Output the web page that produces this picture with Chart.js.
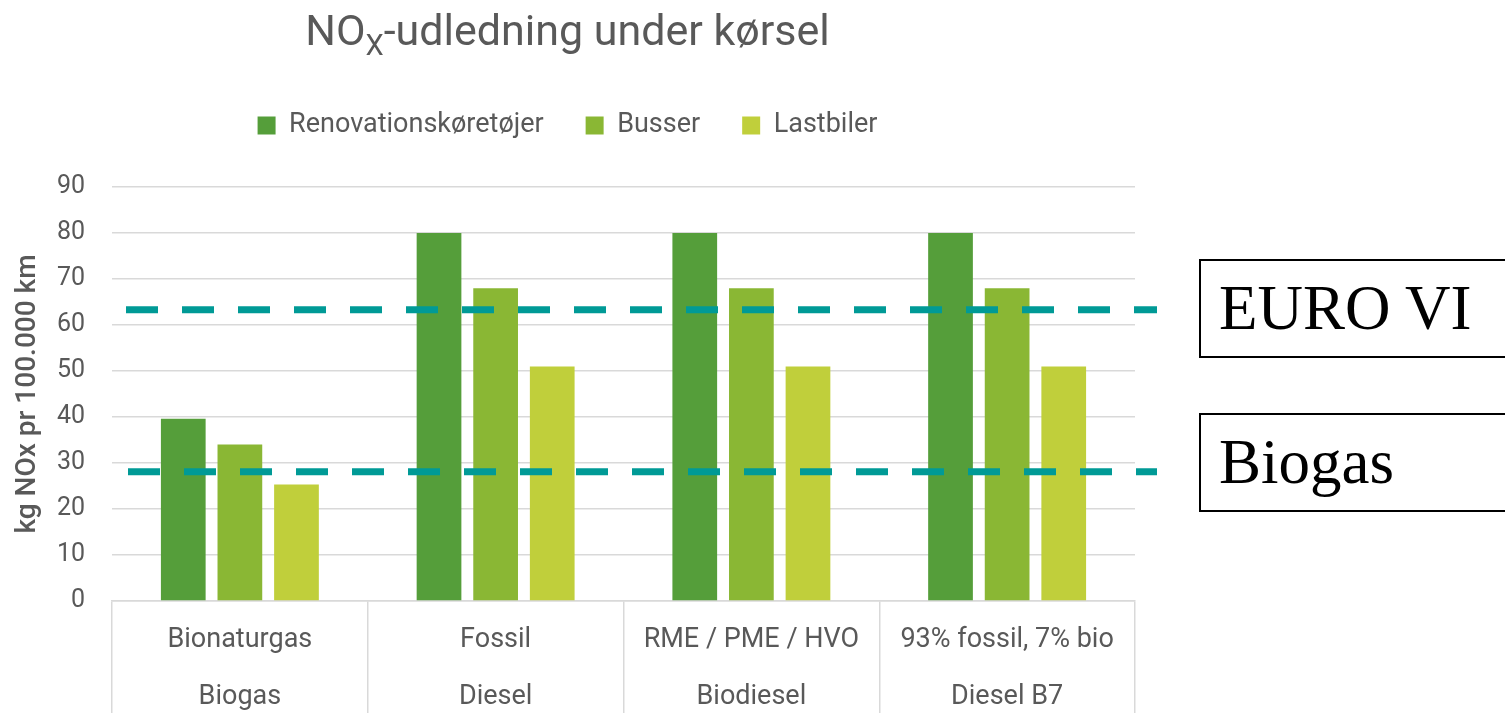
<!DOCTYPE html>
<html>
<head>
<meta charset="utf-8">
<script src="https://cdn.jsdelivr.net/npm/chart.js@4.4.0/dist/chart.umd.min.js"></script>
<style>
  body { margin: 0; background: #fff; overflow: hidden; }
  #wrap { position: relative; width: 1505px; height: 713px; }
  #title {
    position: absolute; left: 0; top: 10px; width: 1135px;
    text-align: center; font: 43px Roboto; line-height: 40px; color: #595959;
  }
  #title sub { font-size: 29px; line-height: 0; vertical-align: -10px; }
  .ref {
    position: absolute; left: 1199px; width: 330px; height: 95px;
    border: 2px solid #000; border-right: none; padding-left: 18px;
    font: 63px "Liberation Serif"; line-height: 95px; color: #000;
  }
</style>
</head>
<body>
<div id="wrap">
  <canvas id="chart"></canvas>
  <div id="title">NO<sub>X</sub>-udledning under kørsel</div>
  <div class="ref" style="top:259px">EURO VI</div>
  <div class="ref" style="top:413px">Biogas</div>
</div>
<script>
// kategorier (to linjer pr. kategori)
const categories = [
  ['Bionaturgas', 'Biogas'],
  ['Fossil', 'Diesel'],
  ['RME / PME / HVO', 'Biodiesel'],
  ['93% fossil, 7% bio', 'Diesel B7']
];
const seriesNames = ['Renovationskøretøjer', 'Busser', 'Lastbiler'];
const renovation = [39.6, 80, 80, 80];
const busser = [34, 68, 68, 68];
const lastbiler = [25.3, 51, 51, 51];
// referencelinjer: EURO VI og Biogas
const refValues = [63.3, 28.1];
const yTicks = [0, 10, 20, 30, 40, 50, 60, 70, 80, 90];

const textColor = '#595959';
const gridColor = '#d9d9d9';

// stiplede referencelinjer tegnes over søjlerne
const refLinePlugin = {
  id: 'refLines',
  afterDatasetsDraw(chart) {
    const { ctx, chartArea, scales: { y } } = chart;
    ctx.save();
    ctx.strokeStyle = '#009a96';
    ctx.lineWidth = 7;
    ctx.setLineDash([32, 24]);
    refValues.forEach((v, i) => {
      const py = y.getPixelForValue(v);
      ctx.beginPath();
      ctx.moveTo(chartArea.left + 14 + i * 2, py);
      ctx.lineTo(chartArea.right + 22, py);
      ctx.stroke();
    });
    ctx.restore();
  }
};

const canvas = document.getElementById('chart');
canvas.width = 1505;
canvas.height = 713;

new Chart(canvas, {
  type: 'bar',
  data: {
    labels: categories,
    datasets: [
      { label: seriesNames[0], data: renovation, backgroundColor: '#559e3a' },
      { label: seriesNames[1], data: busser, backgroundColor: '#8ab734' },
      { label: seriesNames[2], data: lastbiler, backgroundColor: '#c0cf3b' }
    ]
  },
  options: {
    responsive: false,
    animation: false,
    layout: { padding: { top: 70, right: 370, left: 0, bottom: 0 } },
    datasets: { bar: { categoryPercentage: 0.664, barPercentage: 0.79 } },
    plugins: {
      title: { display: false },
      subtitle: {
        display: true, text: '', weight: 500,
        font: { size: 10, lineHeight: 1 },
        padding: { top: 0, bottom: 28 }
      },
      legend: {
        position: 'top',
        labels: {
          font: { family: 'Roboto', size: 27 },
          color: textColor,
          boxWidth: 18,
          boxHeight: 18,
          padding: 42
        }
      },
      tooltip: { enabled: false }
    },
    scales: {
      x: {
        afterFit: s => { s.height = 112; },
        grid: {
          offset: true,
          drawOnChartArea: false,
          drawTicks: true,
          tickLength: 112,
          color: gridColor,
          lineWidth: 1.5
        },
        border: { display: true, color: gridColor, width: 1.5 },
        ticks: {
          font: { family: 'Roboto', size: 27, lineHeight: 2.11 },
          color: textColor,
          padding: -101.5,
          maxRotation: 0,
          autoSkip: false
        }
      },
      y: {
        min: 0,
        max: 90,
        afterFit: s => { s.width = 112; },
        afterBuildTicks: s => { s.ticks = yTicks.map(v => ({ value: v })); },
        grid: { drawTicks: false, color: gridColor, lineWidth: 1.5 },
        border: { display: false },
        ticks: {
          font: { family: 'Roboto', size: 25 },
          color: textColor,
          padding: 27
        },
        title: {
          display: true,
          text: 'kg NOx pr 100.000 km',
          font: { family: 'Roboto', size: 28, weight: '500' },
          color: textColor,
          padding: { top: 11, bottom: 0 }
        }
      }
    }
  },
  plugins: [refLinePlugin]
});
</script>
</body>
</html>
